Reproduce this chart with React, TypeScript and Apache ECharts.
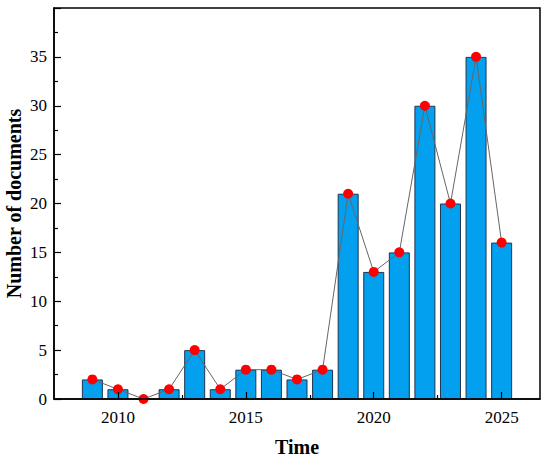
import React, { useEffect, useRef } from "react";
import * as echarts from "echarts";

const years = [2009, 2010, 2011, 2012, 2013, 2014, 2015, 2016, 2017, 2018, 2019, 2020, 2021, 2022, 2023, 2024, 2025];
const counts = [2, 1, 0, 1, 5, 1, 3, 3, 2, 3, 21, 13, 15, 30, 20, 35, 16];
const xMajorTicks = [2010, 2015, 2020, 2025];
const xMinorTicks = [2012.5, 2017.5, 2022.5];

const FONT = "Liberation Serif";
const tickText = { fontFamily: FONT, fontSize: 17, color: "#000" };

export default function App() {
  const ref = useRef<HTMLDivElement>(null);
  useEffect(() => {
    if (!ref.current) return;
    const chart = echarts.init(ref.current, null, { renderer: "svg" });
    const data = years.map((y, i) => [y, counts[i]]);
    chart.setOption({
      animation: false,
      backgroundColor: "#fff",
      textStyle: { fontFamily: FONT },
      grid: {
        left: 54,
        right: 10,
        top: 8,
        bottom: 61,
        outerBoundsMode: "none",
        containLabel: false,
        show: true,
        borderColor: "#000",
        borderWidth: 1.5,
        backgroundColor: "transparent",
      },
      xAxis: [
        {
          type: "value",
          min: 2007.5,
          max: 2026.5,
          z: 10,
          name: "Time",
          nameLocation: "middle",
          nameGap: 38,
          nameMoveOverlap: false,
          nameTextStyle: { fontFamily: FONT, fontSize: 20, fontWeight: "bold", color: "#000" },
          axisLine: { show: true, lineStyle: { color: "#000", width: 1.5 } },
          axisTick: { show: true, inside: true, length: 7, customValues: xMajorTicks, lineStyle: { color: "#000", width: 1.2 } },
          axisLabel: {
            show: true,
            customValues: xMajorTicks,
            margin: 10,
            ...tickText,
            formatter: (v: number) => "{t|" + String(v) + "}",
            rich: { t: tickText },
          },
          splitLine: { show: false },
        },
        {
          type: "value",
          min: 2007.5,
          max: 2026.5,
          position: "bottom",
          z: 10,
          axisLine: { show: false },
          axisTick: { show: true, inside: true, length: 4, customValues: xMinorTicks, lineStyle: { color: "#000", width: 1.2 } },
          axisLabel: { show: false },
          splitLine: { show: false },
        },
      ],
      yAxis: {
        type: "value",
        min: 0,
        max: 40,
        interval: 5,
        z: 10,
        name: "Number of documents",
        nameLocation: "middle",
        nameGap: 30,
        nameMoveOverlap: false,
        nameTextStyle: { fontFamily: FONT, fontSize: 20, fontWeight: "bold", color: "#000" },
        axisLine: { show: true, lineStyle: { color: "#000", width: 1.5 } },
        axisTick: { show: true, inside: true, length: 7, lineStyle: { color: "#000", width: 1.2 } },
        minorTick: { show: true, splitNumber: 2, length: 4, lineStyle: { color: "#000", width: 1.2 } },
        axisLabel: {
          showMaxLabel: false,
          margin: 7,
          ...tickText,
          formatter: (v: number) => "{t|" + String(v) + "}",
          rich: { t: tickText },
        },
        splitLine: { show: false },
        minorSplitLine: { show: false },
      },
      series: [
        {
          type: "bar",
          data,
          barWidth: 21,
          z: 2,
          itemStyle: { color: "#02A0EE", borderColor: "#1F3550", borderWidth: 1 },
        },
        {
          type: "line",
          data,
          z: 3,
          symbol: "circle",
          symbolSize: 10,
          lineStyle: { color: "#666", width: 1 },
          itemStyle: { color: "#FF0000", borderWidth: 0 },
        },
      ],
    });
    return () => chart.dispose();
  }, []);
  return <div ref={ref} style={{ position: "fixed", left: 0, top: 0, width: 550, height: 460 }} />;
}
